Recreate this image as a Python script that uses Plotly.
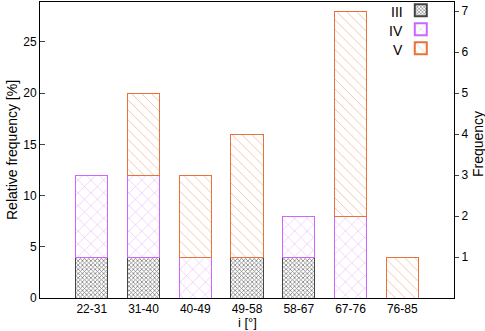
import plotly.graph_objects as go

bins = ['22-31', '31-40', '40-49', '49-58', '58-67', '67-76', '76-85']
count_iii = [1, 1, 0, 1, 1, 0, 0]
count_iv = [2, 2, 1, 0, 1, 2, 0]
count_v = [0, 2, 2, 3, 0, 5, 1]
labels = ['III', 'IV', 'V']
total = sum(count_iii) + sum(count_iv) + sum(count_v)

series = [
    (count_iii, 'black', '#444444', 'x', 3, 0.45),
    (count_iv, '#cc66ff', '#cc66ff', 'x', 9, 0.12),
    (count_v, '#e8733a', '#e8733a', '\\', 7, 0.12),
]

fig = go.Figure()
for counts, fg, edge, shape, size, sol in series:
    pct = [c / total * 100 if c else None for c in counts]
    fig.add_trace(go.Bar(
        x=bins, y=pct, name=' ', width=0.62,
        marker=dict(color='white', line=dict(color=edge, width=1),
                    pattern=dict(shape=shape, fgcolor=fg, bgcolor='white',
                                 size=size, solidity=sol)),
    ))

# invisible trace to carry the frequency axis
fig.add_trace(go.Scatter(x=bins, y=[a + b + c for a, b, c in zip(count_iii, count_iv, count_v)],
                         yaxis='y2', mode='markers', marker=dict(opacity=0),
                         showlegend=False, hoverinfo='skip'))

# legend names written to the left of the keys, as in the original
legend_ann = [
    dict(text=lab, xref='paper', yref='paper', x=0.882, y=yy, xanchor='right',
         yanchor='middle', showarrow=False, font=dict(size=14), height=14)
    for lab, yy in zip(labels, [0.967, 0.903, 0.839])
]

ymax = 28.9
fig.update_layout(
    width=485, height=331, barmode='stack',
    margin=dict(l=40, r=31, t=2, b=33, autoexpand=False),
    plot_bgcolor='white', paper_bgcolor='white',
    font=dict(family='Liberation Sans, Arial, sans-serif', size=12, color='black'),
    xaxis=dict(range=[-1, 7], showline=True, linecolor='black', mirror=True,
               ticks='', showgrid=False, automargin=False),
    yaxis=dict(range=[0, ymax], tickvals=[0, 5, 10, 15, 20, 25], ticks='inside', ticklen=5,
               showline=True, linecolor='black', showgrid=False, zeroline=False,
               automargin=False),
    yaxis2=dict(overlaying='y', side='right', range=[0, ymax * total / 100],
                tickvals=[1, 2, 3, 4, 5, 6, 7], ticks='outside', ticklen=4,
                showline=True, linecolor='black', showgrid=False, zeroline=False,
                automargin=False),
    legend=dict(x=0.985, y=1.021, xanchor='right', yanchor='top', bgcolor='rgba(0,0,0,0)',
                font=dict(size=6), traceorder='normal', tracegroupgap=0,
                itemwidth=30, itemsizing='constant'),
    annotations=[
        dict(text='Relative frequency [%]', xref='paper', yref='paper', x=0, y=0.5,
             xanchor='center', yanchor='middle', xshift=-28, textangle=-90,
             showarrow=False, font=dict(size=14)),
        dict(text='Frequency', xref='paper', yref='paper', x=1, y=0.52,
             xanchor='center', yanchor='middle', xshift=24, textangle=-90,
             showarrow=False, font=dict(size=14)),
        dict(text='i [°]', xref='paper', yref='paper', x=0.5, y=0, yshift=-24,
             xanchor='center', yanchor='middle', showarrow=False, font=dict(size=13)),
    ] + legend_ann,
)

# drop the default page margin so the figure fills the window
fig.write_html("out.html", config={'displayModeBar': False},
               post_script="document.body.style.margin='0';")
